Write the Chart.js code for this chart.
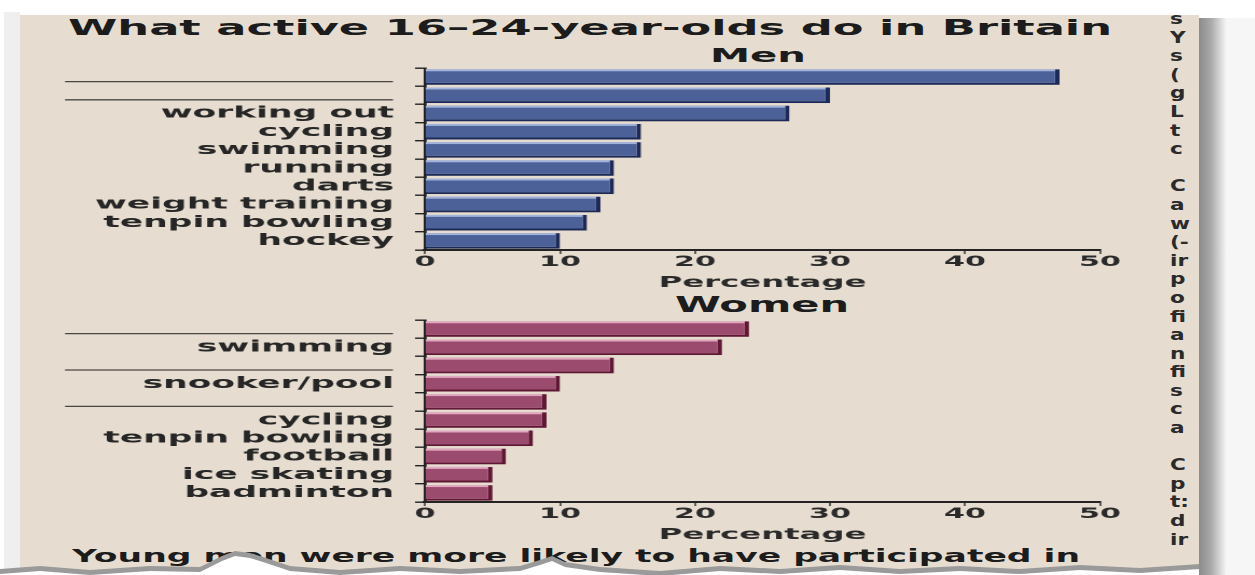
<!DOCTYPE html>
<html>
<head>
<meta charset="utf-8">
<title>What active 16–24-year-olds do in Britain</title>
<script src="https://cdn.jsdelivr.net/npm/chart.js@4.4.1/dist/chart.umd.min.js"></script>
<style>
  html, body { margin: 0; padding: 0; width: 1255px; height: 575px; overflow: hidden; background: #fff; }
  svg { position: absolute; left: 0; top: 0; }
  #over { z-index: 5; }
  .txt { position: absolute; white-space: nowrap; font-family: "DejaVu Sans", Verdana, sans-serif; font-weight: bold; color: #1c1c1c; line-height: 1; transform-origin: 0 0; }
  .wrap { position: absolute; transform-origin: 0 0; }
  #side { line-height: 18.6px; color: #2a2a2a; }
</style>
</head>
<body>
<svg id="bg" width="1255" height="575">
  <rect x="0" y="0" width="1255" height="575" fill="#ffffff"/>
  <rect x="4" y="12" width="16" height="563" fill="#efefef"/>
  <rect x="20" y="15" width="1180" height="560" fill="#e6ddd0"/>
</svg>

<div id="title" class="txt">What active 16–24-year-olds do in Britain</div>
<div id="menTitle" class="txt">Men</div>
<div id="womenTitle" class="txt">Women</div>
<div id="caption" class="txt">Young men were more likely to have participated in</div>
<div id="side" class="txt"></div>

<div class="wrap"><canvas id="menChart"></canvas></div>
<div class="wrap"><canvas id="womenChart"></canvas></div>

<svg id="over" width="1255" height="575"></svg>

<script>
// data (two labels in the men's chart and three in the women's are left blank)
const menLabels = ['', '', 'working out', 'cycling', 'swimming', 'running', 'darts', 'weight training', 'tenpin bowling', 'hockey'];
const menValues = [47, 30, 27, 16, 16, 14, 14, 13, 12, 10];
const womenLabels = ['', 'swimming', '', 'snooker/pool', '', 'cycling', 'tenpin bowling', 'football', 'ice skating', 'badminton'];
const womenValues = [24, 22, 14, 10, 9, 9, 8, 6, 5, 5];
const xTickStep = 10;
const xMax = 50;
const sideLetters = ['s', 'Y', 's', '(', 'g', 'L', 't', 'c', '', 'C', 'a', 'w', '(-', 'ir', 'p', 'o', 'fi', 'a', 'n', 'fi', 's', 'c', 'a', '', 'C', 'p', 't:', 'd', 'ir'];

const FONT = '"DejaVu Sans", Verdana, sans-serif';
const LABEL_SIZE = 16;

// the scan is stretched sideways, so the charts are drawn narrow and widened with scaleX
const S = (() => {
    const c = document.createElement('canvas').getContext('2d');
    c.font = 'bold ' + LABEL_SIZE + 'px ' + FONT;
    return 299 / c.measureText('weight training').width;
})();

function placeText(id, left, right, top, size) {
    const el = document.getElementById(id);
    el.style.fontSize = size + 'px';
    el.style.left = left + 'px';
    el.style.top = top + 'px';
    const w = el.getBoundingClientRect().width;
    el.style.transform = `scaleX(${(right - left) / w})`;
}

const barDecor = {
    id: 'barDecor',
    afterDatasetsDraw(chart, args, opts) {
        const ctx = chart.ctx;
        chart.getDatasetMeta(0).data.forEach(bar => {
            const p = bar.getProps(['x', 'y', 'base', 'height'], true);
            ctx.save();
            ctx.fillStyle = opts.light;
            ctx.fillRect(p.base, p.y - p.height / 2, p.x - p.base - opts.cap, 2);
            ctx.restore();
        });
    },
    afterDraw(chart, args, opts) {
        const ctx = chart.ctx;
        const y = chart.scales.y;
        chart.data.labels.forEach((lab, i) => {
            if (lab !== '') return;
            const py = y.getPixelForTick(i) + 4.5;
            ctx.save();
            ctx.strokeStyle = '#4a4744';
            ctx.lineWidth = 1.3;
            ctx.beginPath();
            ctx.moveTo(opts.lineFrom, py);
            ctx.lineTo(opts.lineTo, py);
            ctx.stroke();
            ctx.restore();
        });
    }
};

function makeChart(id, labels, values, look, f) {
    const canvas = document.getElementById(id);
    const wrap = canvas.parentElement;
    wrap.style.left = f.left + 'px';
    wrap.style.top = f.top + 'px';
    wrap.style.transform = `scaleX(${S})`;
    canvas.width = Math.round((f.right - f.left) / S);
    canvas.height = f.bottom - f.top;

    const ink = '#232323';
    return new Chart(canvas, {
        type: 'bar',
        data: {
            labels,
            datasets: [{
                data: values,
                backgroundColor: look.fill,
                borderColor: look.dark,
                borderWidth: { top: 0, left: 0, right: 4.5 / S, bottom: 2 },
                borderSkipped: false,
                barPercentage: 0.86,
                categoryPercentage: 1
            }]
        },
        options: {
            indexAxis: 'y',
            responsive: false,
            animation: false,
            devicePixelRatio: 2,
            layout: { padding: { top: f.areaTop - f.top, right: (f.right - f.areaRight) / S, left: 0, bottom: 0 } },
            plugins: {
                legend: { display: false },
                tooltip: { enabled: false },
                barDecor: { light: look.light, cap: 4.5 / S, lineFrom: (65 - f.left) / S, lineTo: (393 - f.left) / S }
            },
            scales: {
                x: {
                    min: 0, max: xMax,
                    ticks: { stepSize: xTickStep, color: '#2a2a2a', font: { family: FONT, weight: 'bold', size: 14 }, padding: 0 },
                    grid: { drawOnChartArea: false, drawTicks: true, tickLength: 4, color: ink, lineWidth: 1.5 / S },
                    border: { color: ink, width: 2 },
                    title: { display: true, text: 'Percentage', color: '#2a2a2a', font: { family: FONT, weight: 'bold', size: 15 }, padding: { top: 0, bottom: 0 } },
                    afterFit(scale) { scale.height = f.bottom - f.areaBottom; }
                },
                y: {
                    offset: true,
                    ticks: { autoSkip: false, color: '#262626', font: { family: FONT, weight: 'bold', size: LABEL_SIZE }, padding: 21 / S },
                    grid: { offset: true, drawOnChartArea: false, drawTicks: true, tickLength: 10 / S, color: ink, lineWidth: 1.4 },
                    border: { color: ink, width: 3 / S },
                    afterFit(scale) {
                        scale.width = (f.areaLeft - f.left) / S;
                        scale.paddingTop = 0;
                        scale.paddingBottom = 0;
                    }
                }
            }
        },
        plugins: [barDecor]
    });
}

placeText('title', 68, 1112, 17, 22);
placeText('menTitle', 710, 806, 45, 20);
placeText('womenTitle', 675, 849, 295, 21);
placeText('caption', 72, 1080, 547, 18);

const side = document.getElementById('side');
side.innerHTML = sideLetters.map(s => s || '&nbsp;').join('<br>');
side.style.fontSize = '16px';
side.style.left = '1170px';
side.style.top = '10px';
side.style.transform = 'scaleX(1.35)';

makeChart('menChart', menLabels, menValues,
    { fill: '#4c6198', light: '#a3b4da', dark: '#1d2a57' },
    { left: 40, right: 1150, top: 60, bottom: 292, areaLeft: 425, areaRight: 1100, areaTop: 68, areaBottom: 250 });

makeChart('womenChart', womenLabels, womenValues,
    { fill: '#9a4b6e', light: '#e0a9bf', dark: '#5f1734' },
    { left: 40, right: 1150, top: 312, bottom: 544, areaLeft: 425, areaRight: 1100, areaTop: 320, areaBottom: 502 });

// torn bottom edge and the shadow at the page's right edge
const tear = [[0,569],[40,566],[90,570],[150,566],[200,567],[222,556],[235,551],[250,553],[263,557],[290,566],[340,570],[400,566],[460,569],[520,566],[540,560],[552,556],[565,562],[600,567],[660,571],[720,566],[780,569],[840,565],[900,569],[960,566],[1020,569],[1080,565],[1140,568],[1200,564],[1255,566]];
const poly = dy => tear.map(p => `${p[0]},${p[1] + dy}`).join(' ') + ' 1255,575 0,575';
document.getElementById('over').innerHTML = `
  <defs>
    <linearGradient id="edge" x1="0" x2="1" y1="0" y2="0">
      <stop offset="0" stop-color="#8c8c8c"/>
      <stop offset="0.45" stop-color="#a9a9a9"/>
      <stop offset="1" stop-color="#f4f4f4"/>
    </linearGradient>
  </defs>
  <polygon points="${poly(0)}" fill="#9a9a9a"/>
  <polygon points="${poly(5)}" fill="#ffffff"/>
  <rect x="1226" y="0" width="29" height="575" fill="#f6f6f6"/>
  <rect x="1199" y="18" width="27" height="557" fill="url(#edge)"/>
  <rect x="1199" y="0" width="56" height="18" fill="#ffffff"/>`;
</script>
</body>
</html>
